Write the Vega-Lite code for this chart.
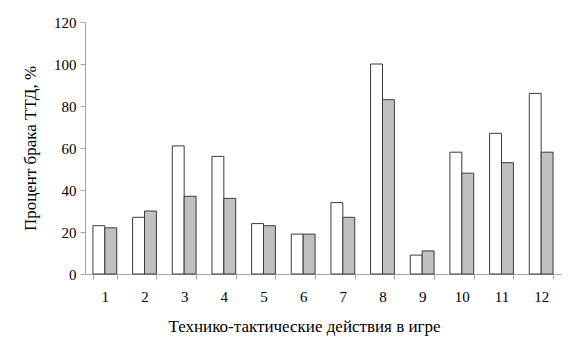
{
  "$schema": "https://vega.github.io/schema/vega-lite/v6.json",
  "width": 476,
  "height": 252,
  "autosize": "none",
  "padding": {"left": 85, "top": 22, "right": 9, "bottom": 81},
  "background": "white",
  "config": {
    "view": {"stroke": null},
    "font": "Liberation Serif",
    "axis": {
      "labelFont": "Liberation Serif",
      "titleFont": "Liberation Serif",
      "labelColor": "black",
      "titleColor": "black",
      "domainColor": "#a6a6a6",
      "tickColor": "#a6a6a6",
      "grid": false,
      "labelFontSize": 15,
      "titleFontSize": 17,
      "titleFontWeight": "normal"
    }
  },
  "data": {
    "values": [
      {"k": "1", "s": "a", "v": 23}, {"k": "1", "s": "b", "v": 22},
      {"k": "2", "s": "a", "v": 27}, {"k": "2", "s": "b", "v": 30},
      {"k": "3", "s": "a", "v": 61}, {"k": "3", "s": "b", "v": 37},
      {"k": "4", "s": "a", "v": 56}, {"k": "4", "s": "b", "v": 36},
      {"k": "5", "s": "a", "v": 24}, {"k": "5", "s": "b", "v": 23},
      {"k": "6", "s": "a", "v": 19}, {"k": "6", "s": "b", "v": 19},
      {"k": "7", "s": "a", "v": 34}, {"k": "7", "s": "b", "v": 27},
      {"k": "8", "s": "a", "v": 100}, {"k": "8", "s": "b", "v": 83},
      {"k": "9", "s": "a", "v": 9}, {"k": "9", "s": "b", "v": 11},
      {"k": "10", "s": "a", "v": 58}, {"k": "10", "s": "b", "v": 48},
      {"k": "11", "s": "a", "v": 67}, {"k": "11", "s": "b", "v": 53},
      {"k": "12", "s": "a", "v": 86}, {"k": "12", "s": "b", "v": 58}
    ]
  },
  "mark": {"type": "bar", "stroke": "#3c3c3c", "strokeWidth": 1},
  "encoding": {
    "x": {
      "field": "k", "type": "ordinal", "sort": null,
      "scale": {"paddingInner": 0.4, "paddingOuter": 0.2},
      "axis": {
        "title": "Технико-тактические действия в игре",
        "labelFont": "Liberation Serif",
        "labelAngle": 0, "tickBand": "extent", "tickSize": 5,
        "labelPadding": 10, "titlePadding": 14, "titleX": 219
      }
    },
    "xOffset": {"field": "s", "type": "nominal"},
    "y": {
      "field": "v", "type": "quantitative",
      "scale": {"domain": [0, 120]},
      "axis": {
        "title": "Процент брака ТТД, %",
        "labelFont": "Liberation Serif",
        "values": [0, 20, 40, 60, 80, 100, 120],
        "tickSize": 5, "labelPadding": 4, "titlePadding": 14
      }
    },
    "fill": {
      "field": "s", "type": "nominal",
      "scale": {"domain": ["a", "b"], "range": ["#ffffff", "#c0c0c0"]},
      "legend": null
    }
  }
}
